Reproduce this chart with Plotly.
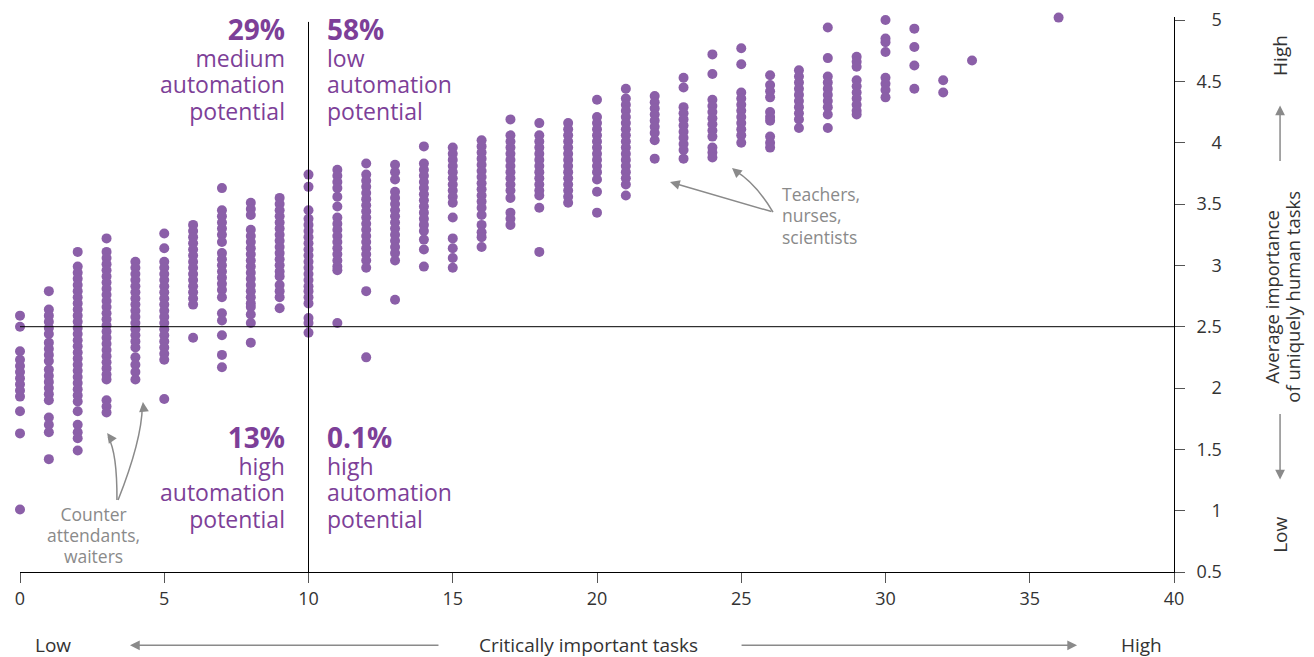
import plotly.graph_objects as go

# number of critically important tasks per occupation group (x)
task_counts = [0, 1, 2, 3, 4, 5, 6, 7, 8, 9, 10, 11, 12, 13, 14, 15, 16, 17,
               18, 19, 20, 21, 22, 23, 24, 25, 26, 27, 28, 29, 30, 31, 32, 33, 36]

# average importance of uniquely human tasks, one list per task count
importance = [
    [2.59, 2.50, 2.30, 2.23, 2.18, 2.13, 2.08, 2.03, 1.98, 1.93, 1.81, 1.63, 1.01],
    [2.79, 2.64, 2.59, 2.54, 2.49, 2.44, 2.37, 2.32, 2.27, 2.22, 2.15, 2.10, 2.05,
     2.00, 1.95, 1.90, 1.76, 1.70, 1.64, 1.42],
    [3.11, 2.99, 2.94, 2.89, 2.84, 2.79, 2.74, 2.69, 2.64, 2.59, 2.54, 2.49, 2.44,
     2.39, 2.34, 2.29, 2.24, 2.19, 2.14, 2.09, 2.04, 1.99, 1.94, 1.89, 1.81, 1.70,
     1.64, 1.59, 1.49],
    [3.22, 3.11, 3.06, 3.01, 2.96, 2.91, 2.86, 2.81, 2.76, 2.71, 2.66, 2.61, 2.56,
     2.51, 2.46, 2.41, 2.36, 2.31, 2.26, 2.21, 2.16, 2.11, 2.07, 1.90, 1.85, 1.80],
    [3.03, 2.98, 2.93, 2.88, 2.83, 2.78, 2.73, 2.68, 2.63, 2.58, 2.53, 2.48, 2.43,
     2.38, 2.33, 2.25, 2.19, 2.13, 2.07],
    [3.26, 3.14, 3.03, 2.98, 2.93, 2.88, 2.83, 2.78, 2.73, 2.68, 2.63, 2.58, 2.53,
     2.48, 2.43, 2.38, 2.33, 2.28, 2.23, 1.91],
    [3.33, 3.28, 3.23, 3.18, 3.13, 3.08, 3.03, 2.98, 2.93, 2.88, 2.83, 2.78, 2.73,
     2.68, 2.41],
    [3.63, 3.45, 3.40, 3.35, 3.30, 3.25, 3.19, 3.10, 3.05, 3.00, 2.95, 2.90, 2.85,
     2.80, 2.74, 2.61, 2.55, 2.43, 2.27, 2.17],
    [3.51, 3.46, 3.41, 3.29, 3.24, 3.19, 3.14, 3.09, 3.04, 2.99, 2.94, 2.89, 2.84,
     2.79, 2.74, 2.69, 2.66, 2.60, 2.53, 2.37],
    [3.55, 3.50, 3.45, 3.40, 3.35, 3.30, 3.25, 3.20, 3.15, 3.10, 3.05, 3.00, 2.95,
     2.91, 2.84, 2.79, 2.74, 2.65],
    [3.74, 3.64, 3.45, 3.38, 3.33, 3.28, 3.23, 3.18, 3.13, 3.08, 3.03, 2.98, 2.93,
     2.88, 2.83, 2.79, 2.74, 2.69, 2.57, 2.53, 2.45],
    [3.78, 3.73, 3.68, 3.63, 3.56, 3.48, 3.39, 3.34, 3.29, 3.24, 3.19, 3.14, 3.09,
     3.04, 2.99, 2.96, 2.53],
    [3.83, 3.74, 3.69, 3.64, 3.59, 3.54, 3.49, 3.44, 3.39, 3.34, 3.29, 3.24, 3.19,
     3.14, 3.09, 3.04, 2.98, 2.79, 2.25],
    [3.82, 3.76, 3.70, 3.60, 3.55, 3.50, 3.45, 3.40, 3.35, 3.30, 3.25, 3.20, 3.15,
     3.10, 3.04, 2.72],
    [3.97, 3.83, 3.78, 3.73, 3.68, 3.63, 3.58, 3.53, 3.48, 3.43, 3.38, 3.33, 3.28,
     3.21, 3.13, 2.99],
    [3.96, 3.91, 3.86, 3.81, 3.76, 3.71, 3.66, 3.61, 3.56, 3.51, 3.39, 3.22, 3.14,
     3.06, 2.98],
    [4.02, 3.97, 3.92, 3.87, 3.82, 3.77, 3.72, 3.67, 3.62, 3.57, 3.52, 3.47, 3.41,
     3.33, 3.27, 3.23, 3.15],
    [4.19, 4.06, 4.01, 3.96, 3.91, 3.86, 3.81, 3.76, 3.71, 3.66, 3.61, 3.55, 3.43,
     3.38, 3.33],
    [4.16, 4.06, 4.01, 3.96, 3.91, 3.86, 3.81, 3.76, 3.71, 3.66, 3.61, 3.57, 3.47,
     3.11],
    [4.16, 4.11, 4.06, 4.01, 3.96, 3.91, 3.86, 3.81, 3.76, 3.71, 3.66, 3.61, 3.56,
     3.51],
    [4.35, 4.21, 4.16, 4.11, 4.06, 4.01, 3.96, 3.91, 3.86, 3.81, 3.76, 3.70, 3.60,
     3.43],
    [4.44, 4.36, 4.31, 4.26, 4.21, 4.16, 4.11, 4.06, 4.01, 3.96, 3.91, 3.86, 3.81,
     3.76, 3.71, 3.66, 3.57],
    [4.38, 4.33, 4.28, 4.23, 4.18, 4.13, 4.08, 4.02, 3.87],
    [4.53, 4.45, 4.29, 4.24, 4.19, 4.14, 4.09, 4.04, 3.99, 3.94, 3.87],
    [4.72, 4.56, 4.35, 4.30, 4.25, 4.20, 4.15, 4.10, 4.05, 3.96, 3.92, 3.88],
    [4.77, 4.64, 4.41, 4.36, 4.31, 4.26, 4.21, 4.16, 4.11, 4.06, 4.00],
    [4.55, 4.47, 4.42, 4.37, 4.25, 4.21, 4.18, 4.05, 4.00, 3.96],
    [4.59, 4.54, 4.49, 4.44, 4.39, 4.34, 4.29, 4.24, 4.19, 4.12],
    [4.94, 4.69, 4.54, 4.49, 4.44, 4.39, 4.34, 4.29, 4.23, 4.12],
    [4.70, 4.66, 4.62, 4.51, 4.46, 4.41, 4.36, 4.31, 4.26, 4.23],
    [5.00, 4.85, 4.82, 4.74, 4.53, 4.48, 4.43, 4.37],
    [4.93, 4.78, 4.63, 4.44],
    [4.51, 4.41],
    [4.67],
    [5.02],
]

y_ticks = [0.5, 1, 1.5, 2, 2.5, 3, 3.5, 4, 4.5, 5]
y_tick_text = ["0.5", "\u2007\u20081", "1.5", "\u2007\u20082", "2.5",
               "\u2007\u20083", "3.5", "\u2007\u20084", "4.5", "\u2007\u20085"]
x_ticks = [0, 5, 10, 15, 20, 25, 30, 35, 40]

quadrants = [
    # side of the divider, base y, percent, label lines
    ("right", 5.0, "29%", ["medium", "automation", "potential"]),
    ("left", 5.0, "58%", ["low", "automation", "potential"]),
    ("right", 0.5, "13%", ["high", "automation", "potential"]),
    ("left", 0.5, "0.1%", ["high", "automation", "potential"]),
]

dot_color = "#8b5fa8"
text_purple = "#7d3f98"
gray = "#8a8a8a"
dark = "#333333"
font = "Open Sans"


def sized(lines, px):
    return "<br>".join(f"<span style='font-size:{px}px'>{t}</span>" for t in lines)


xs, ys = [], []
for t, col in zip(task_counts, importance):
    for v in col:
        xs.append(t)
        ys.append(v)

fig = go.Figure()
fig.add_trace(
    go.Scatter(
        x=xs,
        y=ys,
        mode="markers",
        marker=dict(size=10, color=dot_color, line=dict(width=0)),
        cliponaxis=False,
        hoverinfo="x+y",
        showlegend=False,
    )
)

# quadrant dividers
fig.add_shape(type="line", x0=0, x1=40, y0=2.5, y1=2.5,
              line=dict(color="black", width=1), layer="above")
fig.add_shape(type="line", x0=10, x1=10, y0=0.5, y1=4.985,
              line=dict(color="black", width=1), layer="above")

# quadrant labels
for side, base, pct, lines in quadrants:
    top = base == 5.0
    text = f"<span style='font-size:28px'><b>{pct}</b></span><br>" + sized(lines, 23)
    fig.add_annotation(
        x=10, y=base, xref="x", yref="y",
        text=text, showarrow=False,
        xanchor=side, yanchor="middle", align=side,
        xshift=-22 if side == "right" else 16,
        yshift=-48 if top else 96,
        font=dict(family=font, size=20.5, color=text_purple),
    )

# callouts
fig.add_annotation(x=2.55, y=0.80, xref="x", yref="y", xanchor="center",
                   yanchor="middle",
                   text=sized(["Counter", "attendants,", "waiters"], 17.5),
                   showarrow=False, align="center",
                   font=dict(family=font, size=16, color=gray))
fig.add_annotation(x=26.35, y=3.41, xref="x", yref="y", xanchor="left",
                   yanchor="middle",
                   text=sized(["Teachers,", "nurses,", "scientists"], 17.5),
                   showarrow=False, align="left",
                   font=dict(family=font, size=16.5, color=gray))

# curved callout arrows (quadratic paths) with arrowheads
fig.add_shape(type="path", path="M 3.36,1.087 Q 3.37,1.47 3.06,1.60",
              line=dict(color=gray, width=1.5), layer="above")
fig.add_shape(type="path", path="M 3.40,1.087 Q 4.22,1.576 4.24,1.85",
              line=dict(color=gray, width=1.5), layer="above")
fig.add_shape(type="path", path="M 26.10,3.435 Q 25.50,3.67 24.80,3.77",
              line=dict(color=gray, width=1.5), layer="above")
for hx, hy, ax, ay in [(3.02, 1.633, 5, 7), (4.26, 1.886, 1, 9), (24.68, 3.794, 7, 6)]:
    fig.add_annotation(x=hx, y=hy, xref="x", yref="y", ax=ax, ay=ay, text="",
                       showarrow=True, arrowhead=2, arrowsize=1.3, arrowwidth=1.5,
                       arrowcolor=gray)
fig.add_annotation(x=22.53, y=3.679, xref="x", yref="y", ax=26.10, ay=3.435,
                   axref="x", ayref="y", text="", showarrow=True, arrowhead=2,
                   arrowsize=1.3, arrowwidth=1.5, arrowcolor=gray)

# x axis title with arrows
for x, txt in [(0.0286, "Low"), (0.493, "Critically important tasks"), (0.972, "High")]:
    fig.add_annotation(x=x, y=-0.132, xref="paper", yref="paper", text=txt,
                       xanchor="center", yanchor="middle", showarrow=False,
                       font=dict(family=font, size=19, color=dark))
fig.add_annotation(x=0.0953, y=-0.132, xref="paper", yref="paper", ax=310, ay=0,
                   text="", showarrow=True, arrowhead=2, arrowsize=1.3,
                   arrowwidth=1.5, arrowcolor=gray)
fig.add_annotation(x=0.916, y=-0.132, xref="paper", yref="paper", ax=-337, ay=0,
                   text="", showarrow=True, arrowhead=2, arrowsize=1.3,
                   arrowwidth=1.5, arrowcolor=gray)

# y axis title with arrows
fig.add_annotation(x=1.0936, y=0.496, xref="paper", yref="paper",
                   text=sized(["Average importance", "of uniquely human tasks"], 18.5),
                   textangle=-90, showarrow=False, xanchor="center", yanchor="middle",
                   font=dict(family=font, size=16, color=dark))
for y, txt in [(0.93, "High"), (0.067, "Low")]:
    fig.add_annotation(x=1.0919, y=y, xref="paper", yref="paper", text=txt,
                       textangle=-90, showarrow=False, xanchor="center",
                       yanchor="middle", font=dict(family=font, size=19, color=dark))
fig.add_annotation(x=1.0919, y=0.8406, xref="paper", yref="paper", ax=0, ay=57,
                   text="", showarrow=True, arrowhead=2, arrowsize=1.3,
                   arrowwidth=1.5, arrowcolor=gray)
fig.add_annotation(x=1.0919, y=0.1667, xref="paper", yref="paper", ax=0, ay=-67,
                   text="", showarrow=True, arrowhead=2, arrowsize=1.3,
                   arrowwidth=1.5, arrowcolor=gray)

fig.update_xaxes(
    range=[0, 40], tickvals=x_ticks, showgrid=False, zeroline=False,
    showline=True, linecolor="black", linewidth=1,
    ticks="outside", ticklen=10, tickcolor="#555555",
    tickfont=dict(family=font, size=18, color=dark), ticklabelstandoff=0,
    ticklabeloverflow="allow", automargin=False,
)
fig.update_yaxes(
    range=[0.5, 5.025], side="right", tickvals=y_ticks, ticktext=y_tick_text,
    showgrid=False, zeroline=False, showline=True, linecolor="black",
    linewidth=1, ticks="outside", ticklen=10, tickcolor="#555555",
    tickfont=dict(family=font, size=18, color=dark), ticklabelstandoff=8,
    ticklabeloverflow="allow", automargin=False,
)
# the page body adds 8px, so margins are 8px smaller on the left and top
fig.update_layout(
    width=1314, height=657,
    margin=dict(l=12, r=148, t=9, b=93),
    paper_bgcolor="white", plot_bgcolor="white",
    font=dict(family=font),
    showlegend=False,
)

fig.write_html("out.html")
